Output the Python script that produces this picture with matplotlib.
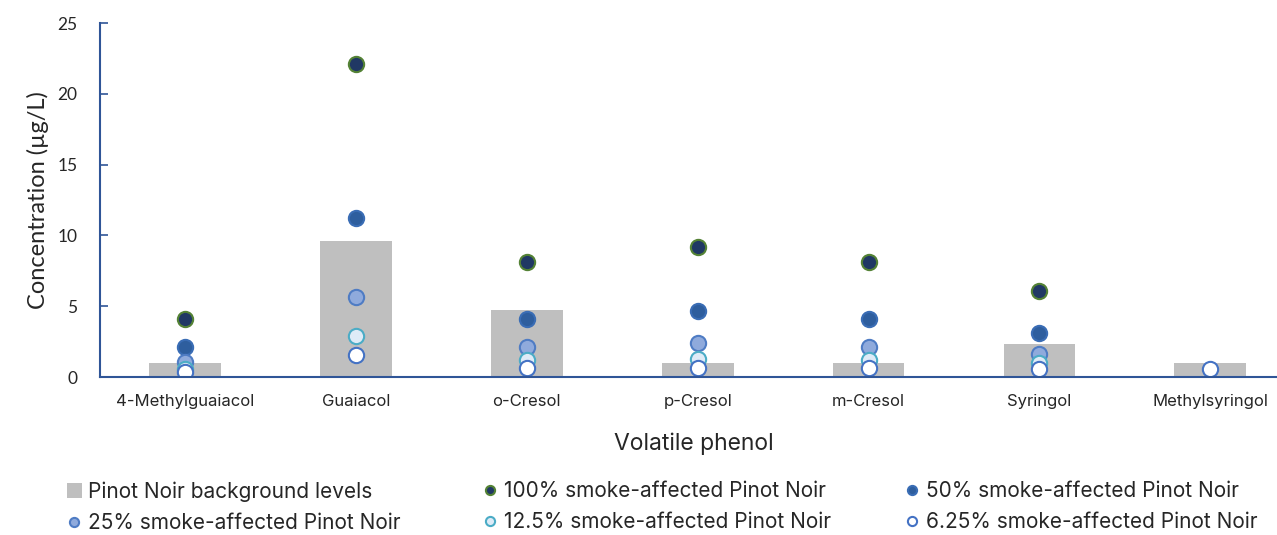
import numpy as np
import matplotlib.pyplot as plt

plt.rcParams['font.family'] = ['Inter', 'DejaVu Sans']

phenols = ['4-Methylguaiacol', 'Guaiacol', 'o-Cresol', 'p-Cresol', 'm-Cresol', 'Syringol', 'Methylsyringol']
background = [1.0, 9.6, 4.7, 1.0, 1.0, 2.3, 1.0]
smoke_100 = [4.1, 22.1, 8.1, 9.2, 8.1, 6.1, np.nan]
smoke_50 = [2.1, 11.2, 4.1, 4.65, 4.1, 3.1, np.nan]
smoke_25 = [1.05, 5.65, 2.1, 2.4, 2.1, 1.6, np.nan]
smoke_12 = [0.6, 2.9, 1.2, 1.3, 1.2, 1.0, np.nan]
smoke_6 = [0.35, 1.55, 0.65, 0.65, 0.65, 0.55, 0.6]

fig = plt.figure(figsize=(12.77, 5.35), dpi=100)
ax = fig.add_axes([0.078, 0.2953, 0.93, 0.6617])

x = np.arange(len(phenols))
bars = ax.bar(x, background, width=0.42, color='#BFBFBF', zorder=1,
              label='Pinot Noir background levels')

series = [
    (smoke_100, '#203864', '#548235', '100% smoke-affected Pinot Noir'),
    (smoke_50, '#2E5E9E', '#3A6DB5', '50% smoke-affected Pinot Noir'),
    (smoke_25, '#8FAADC', '#4F7CC4', '25% smoke-affected Pinot Noir'),
    (smoke_12, '#DEEBF7', '#4BACC6', '12.5% smoke-affected Pinot Noir'),
    (smoke_6, '#FFFFFF', '#4472C4', '6.25% smoke-affected Pinot Noir'),
]
handles = []
for vals, fc, ec, lab in series:
    h, = ax.plot(x, vals, linestyle='none', marker='o', markersize=11,
                 markerfacecolor=fc, markeredgecolor=ec, markeredgewidth=1.5,
                 label=lab, zorder=3)
    handles.append(h)

ax.set_xlim(-0.5, 6.45)
ax.set_ylim(0, 25)
ax.set_yticks(range(0, 26, 5))
ax.set_xticks(x)
ax.set_xticklabels(phenols, fontsize=12, color='#262626')
ax.tick_params(axis='y', direction='in', length=6, width=1.2, color='#2F5597',
               labelsize=12.5, labelcolor='#262626', pad=16)
for t in ax.get_yticklabels():
    t.set_family(['Lato', 'DejaVu Sans'])
ax.tick_params(axis='x', length=0, pad=12)
for s in ['top', 'right']:
    ax.spines[s].set_visible(False)
for s in ['bottom', 'left']:
    ax.spines[s].set_color('#2F5597')
    ax.spines[s].set_linewidth(1.5)
    ax.spines[s].set_zorder(5)

ax.set_ylabel('Concentration (µg/L)', fontsize=17, color='#262626', labelpad=6,
              family=['Lato', 'DejaVu Sans'])
ax.set_xlabel('Volatile phenol', fontsize=16.5, color='#262626', labelpad=17)

# Excel-style legend: three separately placed columns
columns = [(bars, handles[2]), (handles[0], handles[3]), (handles[1], handles[4])]
col_x = [67, 483, 905]
for hs, px in zip(columns, col_x):
    leg = fig.legend(list(hs), [h.get_label() for h in hs], loc='upper left',
                     bbox_to_anchor=(px / 1277, 1 - 481 / 535), frameon=False,
                     fontsize=15, markerscale=0.6, handlelength=0.7,
                     handletextpad=0.3, borderpad=0, borderaxespad=0,
                     labelspacing=0.55)
    for t in leg.get_texts():
        t.set_color('#262626')

fig.savefig('out.png', dpi=100)
